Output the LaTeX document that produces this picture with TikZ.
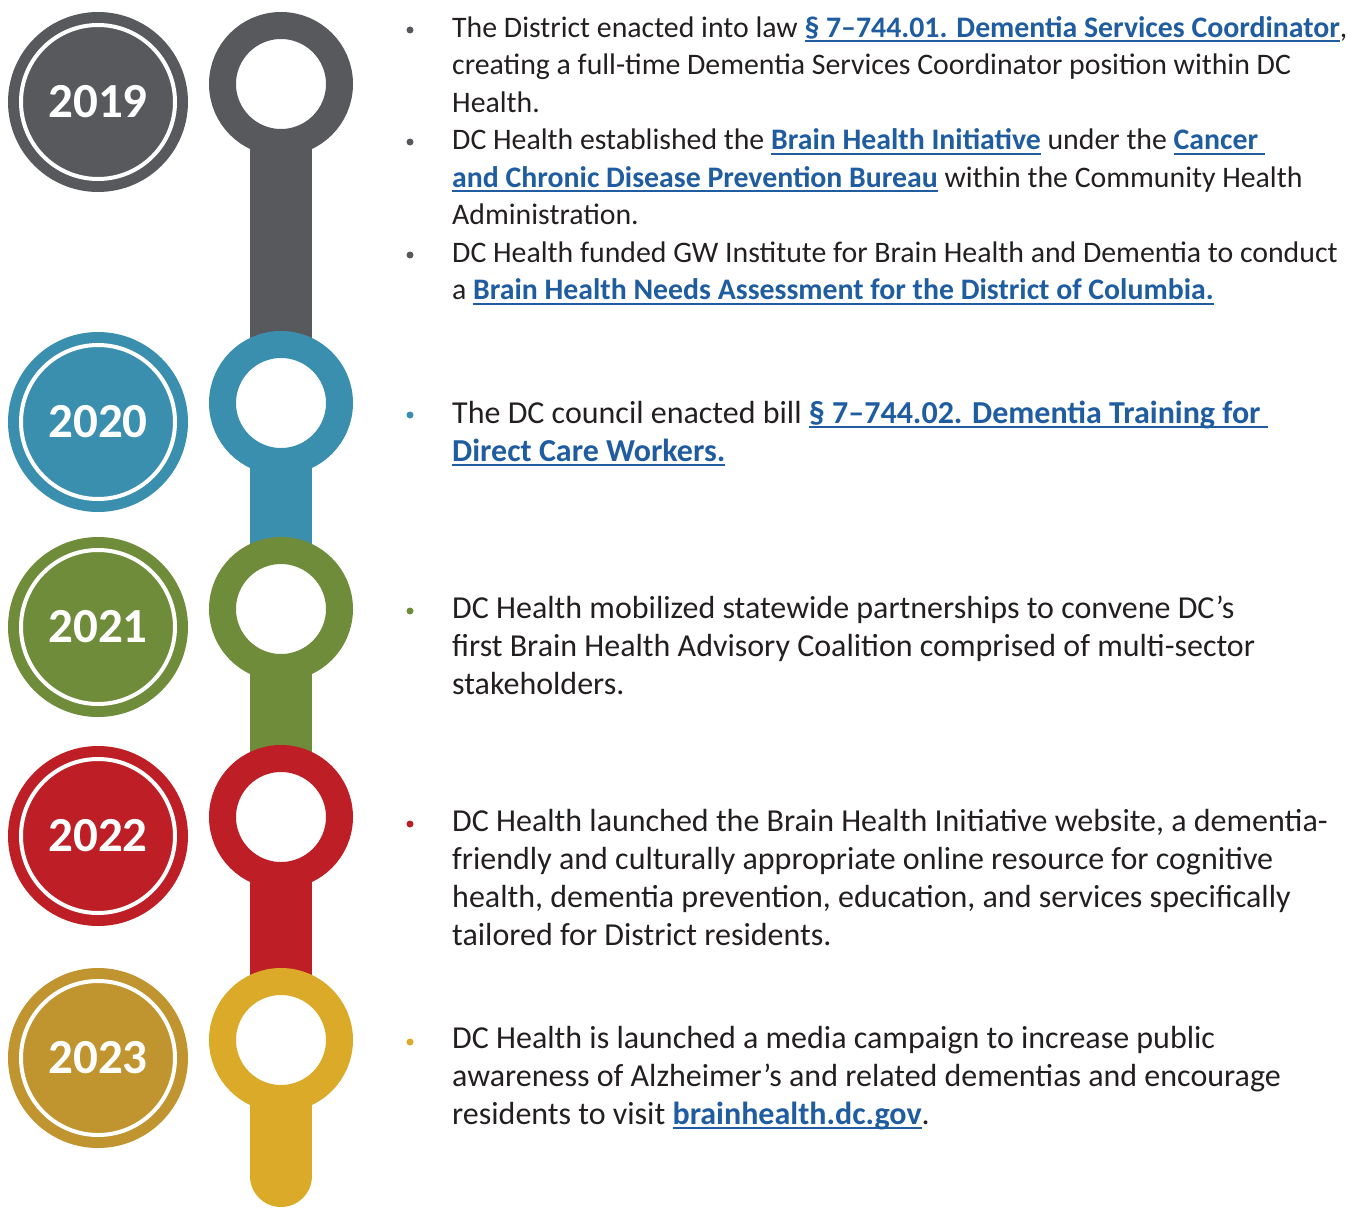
\documentclass[tikz,border=0pt]{standalone}
\usepackage{fontspec}
\setmainfont{Carlito}
\usetikzlibrary{backgrounds}

\definecolor{c2019}{HTML}{57595C}
\definecolor{c2020}{HTML}{3A8FAE}
\definecolor{c2021}{HTML}{6F8C3A}
\definecolor{c2022}{HTML}{BE1E25}
\definecolor{c2023}{HTML}{C0942F}
\definecolor{c2023ring}{HTML}{DAAA28}
\definecolor{linkblue}{HTML}{1F5DA0}
\definecolor{bodytext}{HTML}{231F20}

% bold blue underlined link text
\newsavebox{\lnkbox}
\newcommand{\lnk}[1]{\sbox{\lnkbox}{\color{linkblue}\bfseries #1}%
  {\color{linkblue}\rlap{\rule[-5pt]{\wd\lnkbox}{1.8pt}}}\usebox{\lnkbox}}

\begin{document}
\begin{tikzpicture}[x=1pt, y=-1pt]

% --- Style Definitions ---
\tikzset{yearbadge/.style={circle, inner sep=0pt, outer sep=0pt, minimum size=154pt,
    fill=#1, draw=white, line width=4pt, preaction={draw=#1, line width=26pt},
    text=white, font=\fontsize{49}{49}\selectfont\bfseries}}
\tikzset{keyring/.style={circle, inner sep=0pt, outer sep=0pt, minimum size=117pt,
    fill=white, draw=#1, line width=27pt}}
\tikzset{stemline/.style={draw=#1, line width=62pt}}
\tikzstyle{bulletdot}=[circle, inner sep=0pt, minimum size=7pt]
% entries are placed by the baseline of their last line
\tikzstyle{entry}=[anchor=base west, inner sep=0pt, align=left, text=bodytext,
    font=\fontsize{29.8}{37.5}\selectfont]
\tikzstyle{entrylarge}=[entry, font=\fontsize{32}{38}\selectfont]

\useasboundingbox (0,0) rectangle (1359,1207);

% --- Year badges ---
\node[yearbadge=c2019] (Y2019) at (98,102) {2019};
\node[yearbadge=c2020] (Y2020) at (98,422) {2020};
\node[yearbadge=c2021] (Y2021) at (98,627) {2021};
\node[yearbadge=c2022] (Y2022) at (98,836) {2022};
\node[yearbadge=c2023] (Y2023) at (98,1058) {2023};

% --- Timeline rings ---
\node[keyring=c2019] (R2019) at (281,84) {};
\node[keyring=c2020] (R2020) at (281,403) {};
\node[keyring=c2021] (R2021) at (281,609) {};
\node[keyring=c2022] (R2022) at (281,817) {};
\node[keyring=c2023ring] (R2023) at (281,1040) {};
\coordinate (tail) at (281,1176);

% --- Stems between the rings (kept underneath) ---
\begin{scope}[on background layer]
\draw[stemline=c2019] (R2019) -- (R2020);
\draw[stemline=c2020] (R2020) -- (R2021);
\draw[stemline=c2021] (R2021) -- (R2022);
\draw[stemline=c2022] (R2022) -- (R2023);
\draw[stemline=c2023ring, line cap=round] (R2023) -- (tail);
\end{scope}

% --- 2019 ---
\node[bulletdot, fill=c2019] (B2019a) at (410,30) {};
\node[entry] (T2019a) at (452,112) {The District enacted into law \lnk{§ 7–744.01. Dementia Services Coordinator},\\
creating a full-time Dementia Services Coordinator position within DC\\
Health.};
\node[bulletdot, fill=c2019] (B2019b) at (410,142) {};
\node[entry] (T2019b) at (452,224.5) {DC Health established the \lnk{Brain Health Initiative} under the \lnk{Cancer~}\\
\lnk{and Chronic Disease Prevention Bureau} within the Community Health\\
Administration.};
\node[bulletdot, fill=c2019] (B2019c) at (410,255) {};
\node[entry] (T2019c) at (452,299.5) {DC Health funded GW Institute for Brain Health and Dementia to conduct\\
a \lnk{Brain Health Needs Assessment for the District of Columbia.}};

% --- 2020 ---
\node[bulletdot, fill=c2020] (B2020) at (410,415) {};
\node[entrylarge] (T2020) at (452,461) {The DC council enacted bill \lnk{§ 7–744.02. Dementia Training for~}\\
\lnk{Direct Care Workers.}};

% --- 2021 ---
\node[bulletdot, fill=c2021] (B2021) at (410,611) {};
\node[entrylarge] (T2021) at (452,694) {DC Health mobilized statewide partnerships to convene DC’s\\
first Brain Health Advisory Coalition comprised of multi-sector\\
stakeholders.};

% --- 2022 ---
\node[bulletdot, fill=c2022] (B2022) at (410,824) {};
\node[entrylarge] (T2022) at (452,945) {DC Health launched the Brain Health Initiative website, a dementia-\\
friendly and culturally appropriate online resource for cognitive\\
health, dementia prevention, education, and services specifically\\
tailored for District residents.};

% --- 2023 ---
\node[bulletdot, fill=c2023ring] (B2023) at (410,1042) {};
\node[entrylarge] (T2023) at (452,1124) {DC Health is launched a media campaign to increase public\\
awareness of Alzheimer’s and related dementias and encourage\\
residents to visit \lnk{brainhealth.dc.gov}.};

\end{tikzpicture}
\end{document}
